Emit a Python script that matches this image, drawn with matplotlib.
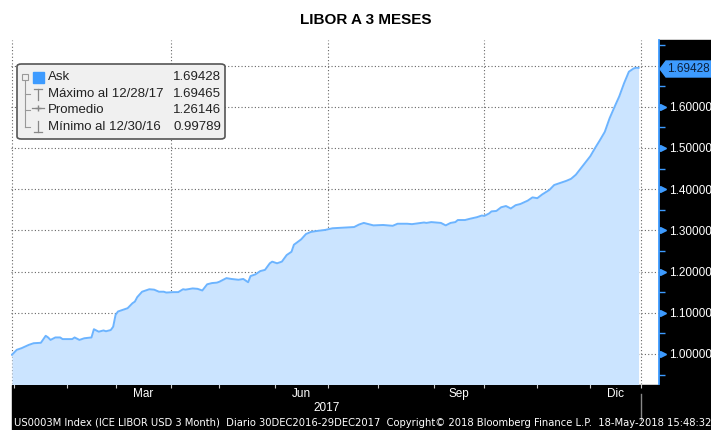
import numpy as np
import matplotlib
matplotlib.use("Agg")
import matplotlib.pyplot as plt
from matplotlib.patches import Rectangle, FancyBboxPatch, Polygon

# LIBOR USD 3M, trading days counted from 30-Dec-2016
bday = [0, 2, 4, 7, 9, 12, 14, 15, 16, 18, 20, 21, 25, 26, 28, 30, 33, 34, 36, 38,
        39, 41, 42, 43, 44, 46, 48, 50, 51, 52, 54, 57, 59, 61, 63, 64, 67, 69, 71, 72,
        75, 77, 79, 81, 83, 85, 86, 89, 91, 94, 96, 98, 99, 101, 103, 105, 107, 108, 110, 112,
        114, 116, 117, 120, 122, 124, 126, 130, 133, 139, 142, 144, 146, 150, 154, 158, 160, 164, 166, 171,
        172, 174, 178, 180, 182, 184, 185, 188, 190, 193, 195, 196, 198, 199, 201, 203, 205, 207, 209, 211,
        214, 216, 218, 220, 223, 225, 228, 230, 232, 234, 236, 238, 240, 242, 244, 246, 248, 250, 252, 254,
        256, 258, 259, 260]
ask = [0.99789, 1.010, 1.014, 1.022, 1.026, 1.027, 1.044, 1.040, 1.034, 1.040,
       1.040, 1.036, 1.036, 1.040, 1.034, 1.038, 1.040, 1.060, 1.054, 1.057,
       1.055, 1.058, 1.066, 1.095, 1.103, 1.107, 1.111, 1.123, 1.127, 1.138,
       1.151, 1.157, 1.156, 1.151, 1.151, 1.149, 1.150, 1.150, 1.157, 1.156,
       1.159, 1.158, 1.154, 1.169, 1.172, 1.173, 1.175, 1.184, 1.182, 1.180,
       1.182, 1.174, 1.189, 1.193, 1.201, 1.204, 1.220, 1.224, 1.220, 1.224,
       1.240, 1.248, 1.265, 1.278, 1.291, 1.296, 1.298, 1.301, 1.305, 1.307,
       1.308, 1.314, 1.318, 1.312, 1.313, 1.311, 1.316, 1.316, 1.315, 1.319,
       1.318, 1.320, 1.318, 1.312, 1.318, 1.320, 1.325, 1.325, 1.328, 1.332,
       1.336, 1.335, 1.341, 1.346, 1.347, 1.356, 1.359, 1.353, 1.361, 1.364,
       1.372, 1.380, 1.378, 1.387, 1.398, 1.410, 1.416, 1.420, 1.425, 1.435,
       1.450, 1.465, 1.480, 1.500, 1.519, 1.539, 1.572, 1.599, 1.625, 1.657,
       1.685, 1.693, 1.69465, 1.69428]

month_starts = [1, 23, 43, 66, 86, 109, 131, 152, 175, 196, 218, 240, 261]
month_names = ["Ene", "Feb", "Mar", "Abr", "May", "Jun", "Jul", "Ago", "Sep", "Oct", "Nov", "Dic"]
shown_months = ["Mar", "Jun", "Sep", "Dic"]
quarter_lines = [0, 66, 131, 196, 261]
yticks = [1.0, 1.1, 1.2, 1.3, 1.4, 1.5, 1.6]

legend_rows = [("Ask", "1.69428"),
               ("Máximo al 12/28/17", "1.69465"),
               ("Promedio", "1.26146"),
               ("Mínimo al 12/30/16", "0.99789")]
last_value = "1.69428"
title = "LIBOR A 3 MESES"
footer = ("US0003M Index (ICE LIBOR USD 3 Month)  Diario 30DEC2016-29DEC2017  "
          "Copyright\u00a9 2018 Bloomberg Finance L.P.  18-May-2018 15:48:32")

W, H = 711, 430
def fx(x):
    return x / W
def fy(y):
    return 1 - y / H

BLUE = "#3d9bff"
LINE = "#6cb4ff"
FILL = "#cbe4ff"
FONT = "Liberation Sans"

fig = plt.figure(figsize=(7.11, 4.30), dpi=100)
fig.patch.set_facecolor("white")

# black bands of the terminal
fig.patches.append(Rectangle((fx(659), 0), 1 - fx(659), fy(40), transform=fig.transFigure,
                             color="black", zorder=-5))
fig.patches.append(Rectangle((fx(12), 0), 1 - fx(12), fy(385), transform=fig.transFigure,
                             color="black", zorder=-5))

ax = fig.add_axes([fx(11), fy(384), fx(659) - fx(11), fy(40) - fy(384)])
ax.set_facecolor("white")
ax.set_xlim(-0.4, 268.5)
ax.set_ylim(0.927, 1.762)

for v in np.arange(1.0, 1.75, 0.1):
    ax.axhline(v, color="#666666", lw=0.8, ls=(0, (1, 2)), zorder=1)
for q in quarter_lines:
    ax.axvline(q, color="#666666", lw=0.8, ls=(0, (1, 2)), zorder=1)

ax.fill_between(bday, ask, 0.9, color=FILL, lw=0, zorder=2)
ax.plot(bday, ask, color=LINE, lw=1.4, zorder=3)

for s in ["top", "left", "bottom"]:
    ax.spines[s].set_visible(False)
ax.spines["right"].set_color(BLUE)
ax.spines["right"].set_linewidth(1.3)

# right value axis
ax.yaxis.tick_right()
ax.set_yticks(yticks)
ax.set_yticklabels(["%.5f" % v for v in yticks], color="white", fontsize=8.5, family=FONT)
ax.set_yticks(np.arange(0.95, 1.76, 0.1), minor=True)
ax.tick_params(axis="y", which="major", length=0, pad=7)
ax.tick_params(axis="y", which="minor", length=4, color=BLUE, width=1)
ax.plot(np.full(len(yticks), 1.0 + 3.5 / 648), yticks, transform=ax.get_yaxis_transform(),
        ls="none", marker=">", ms=5, color=BLUE, clip_on=False, zorder=6)

# time axis
ax.set_xticks(month_starts)
ax.set_xticklabels([])
ax.tick_params(axis="x", which="major", length=3, color="#cccccc", width=0.8)
centers = [(month_starts[i] + month_starts[i + 1]) / 2 for i in range(12)]
ax.set_xticks(centers, minor=True)
ax.set_xticklabels([m if m in shown_months else "" for m in month_names], minor=True,
                   color="white", fontsize=8.5, family=FONT)
ax.tick_params(axis="x", which="minor", length=0, pad=3)
ax.text(130.5, -0.07, "2017", transform=ax.get_xaxis_transform(), ha="center", va="center",
        color="white", fontsize=8.5, family=FONT)
ax.plot([261, 261], [-0.03, -0.105], transform=ax.get_xaxis_transform(), color="#888888",
        lw=1, clip_on=False)

# last value tag
tag = Polygon([(fx(660), fy(69)), (fx(666), fy(61)), (fx(711), fy(61)), (fx(711), fy(77)),
               (fx(666), fy(77))], closed=True, transform=fig.transFigure, color=BLUE, zorder=5)
fig.patches.append(tag)
fig.text(fx(667), fy(69.5), last_value, color="#0b1f3a", fontsize=8.5, family=FONT,
         va="center", zorder=7)

# legend box
box = FancyBboxPatch((fx(17), fy(139)), fx(225) - fx(17), fy(64) - fy(139),
                     boxstyle="round,pad=0,rounding_size=0.006", transform=fig.transFigure,
                     facecolor="#f0f0f0", edgecolor="#555555", lw=1.2, zorder=10)
fig.patches.append(box)
row_y = [77, 94, 110, 127]
for (lab, val), y in zip(legend_rows, row_y):
    fig.text(fx(48), fy(y), lab, fontsize=9.5, family=FONT, color="#222222", va="center", zorder=11)
    fig.text(fx(173), fy(y), val, fontsize=9.5, family=FONT, color="#222222", va="center", zorder=11)
# tree connectors
tc = "#999999"
def fline(xs, ys, **kw):
    fig.add_artist(plt.Line2D([fx(x) for x in xs], [fy(y) for y in ys],
                              transform=fig.transFigure, zorder=11, **kw))
fline([25, 25], [81, 127], color=tc, lw=0.8)
for y in row_y[1:]:
    fline([25, 30], [y, y], color=tc, lw=0.8)
fig.patches.append(Rectangle((fx(22), fy(80)), fx(28) - fx(22), fy(74) - fy(80),
                             transform=fig.transFigure, facecolor="#f0f0f0", edgecolor=tc,
                             lw=0.8, zorder=12))
fline([23.5, 26.5], [77, 77], color="#666666", lw=0.8)
fig.patches.append(Rectangle((fx(33), fy(83)), fx(44) - fx(33), fy(72) - fy(83),
                             transform=fig.transFigure, color=BLUE, zorder=12))
fline([38, 38], [89, 100], color="#888888", lw=0.9)
fline([34, 42], [89, 89], color="#888888", lw=0.9)
fline([32, 44], [108, 108], color="#888888", lw=0.9)
fline([38], [108], color="#888888", marker="+", ms=5, ls="none")
fline([38, 38], [121, 132], color="#888888", lw=0.9)
fline([34, 42], [132, 132], color="#888888", lw=0.9)

fig.text(fx(366), fy(20), title, ha="center", va="center", fontsize=11, fontweight="bold",
         family=FONT, color="black")
fig.text(fx(14), fy(423), footer, color="white", fontsize=7.2, family="DejaVu Sans", va="center")

fig.savefig("out.png", dpi=100)
